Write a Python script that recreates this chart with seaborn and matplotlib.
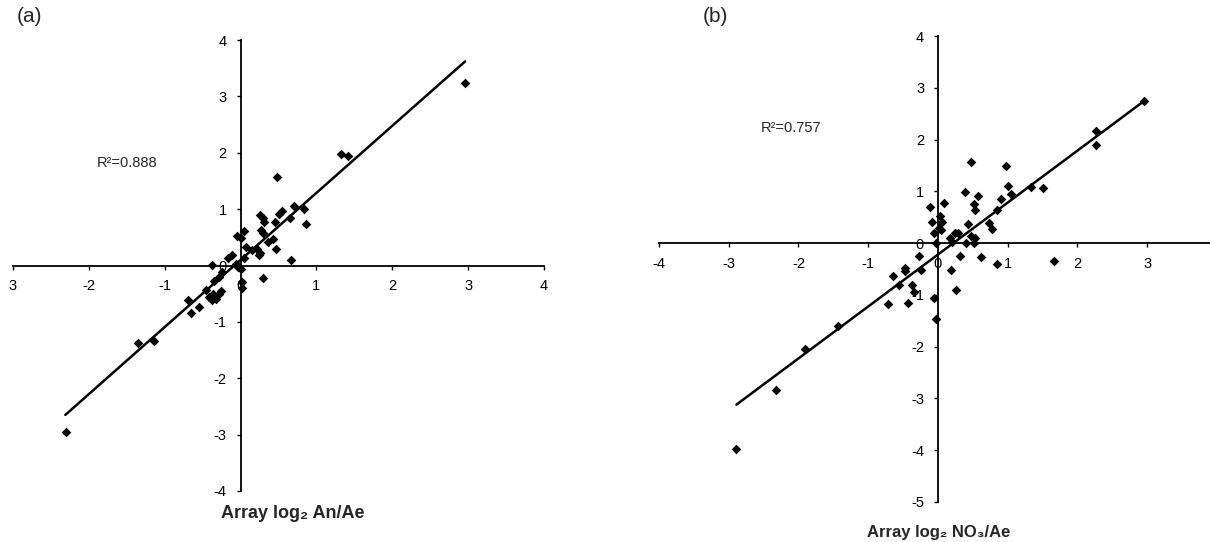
import matplotlib
matplotlib.use("Agg")
import seaborn as sns
import matplotlib.pyplot as plt

# Panel (a): array log2 An/Ae (x) vs. second measurement (y)
a_x = [-2.30, -1.35, -1.14, -0.69, -0.65, -0.55, -0.45, -0.42, -0.38, -0.36,
       -0.32, -0.29, -0.26, -0.35, -0.29, -0.25, -0.38, -0.17, -0.11, -0.05,
       0.00, 0.04, -0.06, -0.03, 0.01, 0.02, 0.02, 0.05, 0.07, 0.15,
       0.21, 0.24, 0.26, 0.29, 0.31, 0.27, 0.29, 0.25, 0.29, 0.36,
       0.43, 0.45, 0.48, 0.47, 0.51, 0.54, 0.65, 0.66, 0.70, 0.83,
       0.86, 1.33, 1.42, 2.96]
a_y = [-2.95, -1.38, -1.34, -0.61, -0.84, -0.74, -0.43, -0.56, -0.61, -0.51,
       -0.59, -0.50, -0.45, -0.27, -0.20, -0.12, 0.01, 0.14, 0.18, 0.52,
       0.48, 0.62, 0.02, -0.03, -0.06, -0.30, -0.40, 0.13, 0.32, 0.27,
       0.29, 0.18, 0.89, 0.84, 0.78, 0.63, 0.57, 0.22, -0.22, 0.41,
       0.47, 0.78, 1.57, 0.30, 0.92, 0.96, 0.84, 0.10, 1.06, 1.01,
       0.74, 1.98, 1.94, 3.23]
a_fit_x = [-2.31, 2.96]
a_fit_y = [-2.65, 3.62]
a_r2 = "R²=0.888"

# Panel (b): array log2 NO3/Ae
b_x = [-2.89, -2.32, -1.90, -1.44, -0.71, -0.65, -0.56, -0.47, -0.47, -0.43,
       -0.37, -0.35, -0.27, -0.24, -0.11, -0.09, -0.06, -0.03, -0.06, -0.03,
       0.01, 0.03, 0.06, 0.04, 0.08, 0.17, 0.20, 0.18, 0.25, 0.29,
       0.26, 0.32, 0.39, 0.40, 0.43, 0.47, 0.48, 0.51, 0.53, 0.52,
       0.53, 0.57, 0.62, 0.73, 0.78, 0.84, 0.85, 0.91, 0.98, 1.01,
       1.05, 1.34, 1.50, 1.66, 2.27, 2.27, 2.96]
b_y = [-3.98, -2.84, -2.04, -1.61, -1.17, -0.64, -0.81, -0.48, -0.53, -1.15,
       -0.80, -0.95, -0.25, -0.52, 0.70, 0.41, 0.20, 0.01, -1.06, -1.46,
       0.30, 0.53, 0.40, 0.25, 0.78, 0.10, 0.03, -0.51, 0.20, 0.20,
       -0.90, -0.25, 0.99, 0.01, 0.36, 1.57, 0.13, 0.76, 0.63, 0.01,
       0.10, 0.91, -0.27, 0.38, 0.27, 0.63, -0.41, 0.86, 1.49, 1.11,
       0.95, 1.09, 1.07, -0.34, 2.16, 1.89, 2.75]
b_fit_x = [-2.89, 2.96]
b_fit_y = [-3.12, 2.75]
b_r2 = "R²=0.757"

a_xticks = [-3, -2, -1, 0, 1, 2, 3, 4]
a_xlabels = ["3", "-2", "-1", "0", "1", "2", "3", "4"]
a_yticks = [-4, -3, -2, -1, 0, 1, 2, 3, 4]
b_xticks = [-4, -3, -2, -1, 0, 1, 2, 3]
b_yticks = [-5, -4, -3, -2, -1, 0, 1, 2, 3, 4]

sns.set_theme(style="white")
plt.rcParams['font.family'] = ['Liberation Sans', 'DejaVu Sans']
plt.rcParams['axes.unicode_minus'] = False

W, H = 1210, 542
fig = plt.figure(figsize=(W / 100, H / 100), dpi=100)
ax1 = fig.add_axes([13 / W, 1 - 491 / H, 531 / W, 451 / H])
ax2 = fig.add_axes([659 / W, 1 - 502 / H, 551 / W, 466 / H])


def style(ax, xlim, ylim, xticks, xlabels, yticks):
    ax.set_xlim(xlim)
    ax.set_ylim(ylim)
    ax.patch.set_alpha(0)
    for s in ["top", "right"]:
        ax.spines[s].set_visible(False)
    for s in ["left", "bottom"]:
        ax.spines[s].set_position("zero")
        ax.spines[s].set_color("black")
        ax.spines[s].set_linewidth(1.3)
    ax.set_xticks(xticks)
    ax.set_xticklabels(xlabels)
    ax.set_yticks(yticks)
    ax.set_yticklabels([str(t) for t in yticks])
    ax.tick_params(direction="out", length=3, width=1, colors="black",
                   labelsize=10.5, pad=7, bottom=True, left=True)
    ax.set_xlabel("")
    ax.set_ylabel("")


for ax, x, y, fx, fy in [(ax1, a_x, a_y, a_fit_x, a_fit_y),
                         (ax2, b_x, b_y, b_fit_x, b_fit_y)]:
    sns.lineplot(x=fx, y=fy, ax=ax, color="black", linewidth=1.8)
    sns.scatterplot(x=x, y=y, ax=ax, marker="D", s=24, color="black",
                    linewidth=0)

style(ax1, (-3, 4), (-4, 4), a_xticks, a_xlabels, a_yticks)
style(ax2, (-4, 3.9), (-5, 4), b_xticks, [str(t) for t in b_xticks], b_yticks)

ax1.text(-1.50, 1.81, a_r2, ha="center", va="center", fontsize=10.5)
ax2.text(-2.11, 2.22, b_r2, ha="center", va="center", fontsize=10.5)

fig.text(30 / W, 1 - 16 / H, "(a)", fontsize=15, ha="center", va="center")
fig.text(715 / W, 1 - 16 / H, "(b)", fontsize=15, ha="center", va="center")
fig.text(293 / W, 1 - 513 / H, "Array log₂ An/Ae", fontsize=13,
         fontweight="bold", ha="center", va="center")
fig.text(939 / W, 1 - 525 / H, "Array log₂ NO₃/Ae", fontsize=12,
         fontweight="bold", ha="center", va="top")

fig.savefig("out.png", dpi=100)
